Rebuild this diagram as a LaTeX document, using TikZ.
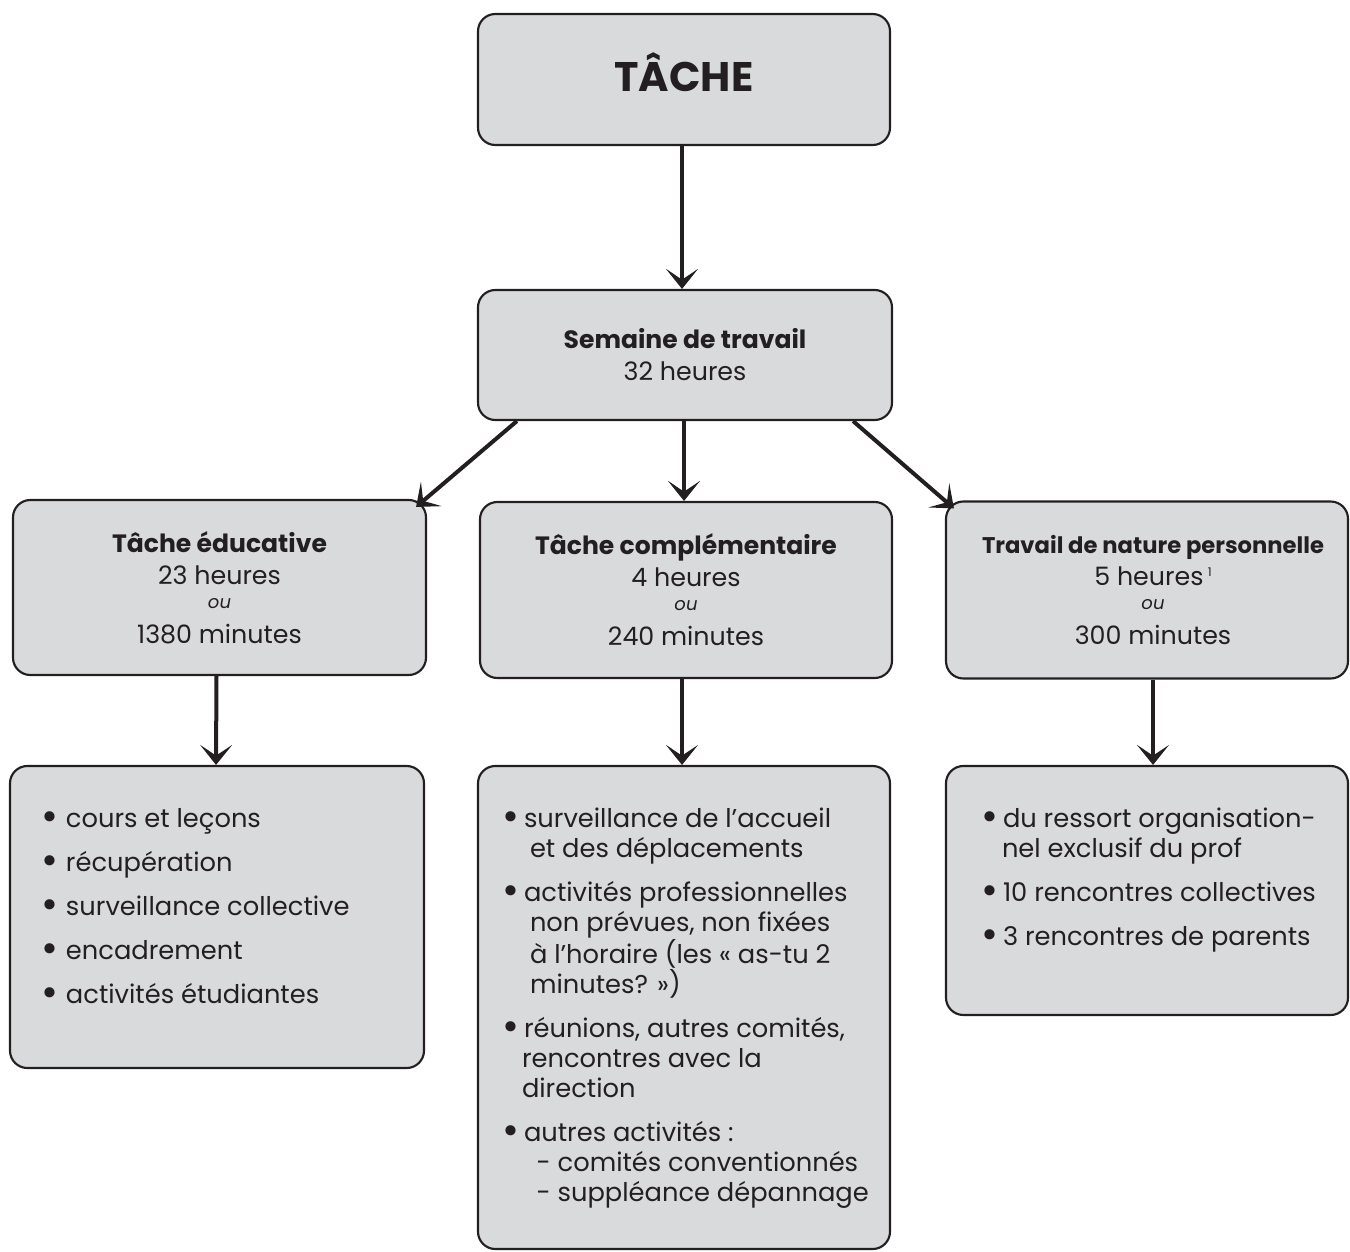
\documentclass[tikz,border=0pt]{standalone}
\usepackage{fontspec}
\setmainfont{Poppins}
\usetikzlibrary{arrows.meta,calc}
\definecolor{boxfill}{HTML}{D9DADC}
\definecolor{ink}{HTML}{231F20}
\newcommand\regfont{\fontsize{19}{24}\selectfont}
\newcommand\ttlfont{\fontsize{18.8}{24}\selectfont\bfseries}
\newcommand\oufont{\fontsize{13.5}{14}\selectfont\itshape}
\newcommand\bodyfont{\fontsize{19.3}{22.5}\selectfont}
\newcommand\bigbullet{\raisebox{-2.6pt}{\scalebox{1.6}{\textbullet}}}
% one line of a list box: bullet centre offset, text offset (from box left), text
\newcommand\bline[3]{\noindent\makebox[0pt][l]{\hspace*{#1}\makebox[0pt][c]{\bigbullet}}\hspace*{#2}#3\par}
\newcommand\contline[2]{\noindent\hspace*{#1}#2\par}
\newcommand\firststrut{\rule{0pt}{46pt}}
\newcommand\itemgap{\vspace{10.5pt}}
\begin{document}
\begin{tikzpicture}[x=0.75pt,y=-0.75pt,
  box/.style={draw=ink, fill=boxfill, line width=1.6pt, rounded corners=13pt,
              inner sep=0pt, text=ink, align=center},
  arr/.style={draw=ink, line width=3pt, -{Stealth[length=15pt,width=24pt,inset=8pt]}}]
\useasboundingbox (0,0) rectangle (1350,1252);

% top
\node[box, minimum width=309pt, minimum height=98.25pt, text height=18.75pt, text depth=0pt]
  (tache) at (684,79.5) {\fontsize{31}{36}\selectfont\bfseries TÂCHE};

\node[box, minimum width=310.5pt, minimum height=97.5pt, font=\regfont] (sem) at (685,355)
  {{\ttlfont Semaine de travail}\\ 32 heures};

% middle tier
\node[box, minimum width=309.75pt, minimum height=131.25pt, font=\regfont] (edu) at (219.5,587.5)
  {{\ttlfont Tâche éducative}\\ 23 heures\\[-6pt] {\oufont ou}\\[2.25pt] 1380 minutes};

\node[box, minimum width=309pt, minimum height=132pt, font=\regfont] (comp) at (686,590)
  {{\ttlfont Tâche complémentaire}\\ 4 heures\\[-6pt] {\oufont ou}\\[2.25pt] 240 minutes};

\node[box, minimum width=301.5pt, minimum height=132.75pt, font=\regfont] (perso) at (1147,590)
  {\hspace*{9pt}{\fontsize{17}{24}\selectfont\bfseries Travail de nature personnelle}\\
   \hspace*{9pt}5 heures\,\raisebox{7pt}{\fontsize{9}{9}\selectfont 1}\\[-6pt]
   \hspace*{9pt}{\oufont ou}\\[2.25pt] \hspace*{9pt}300 minutes};

% bottom tier
\node[box, inner sep=0pt, font=\bodyfont] (eduL) at (217,917)
  {\begin{minipage}[c][226.5pt][t]{310.5pt}\bodyfont
   \bline{30pt}{42pt}{\firststrut cours et leçons}\itemgap
   \bline{30pt}{42pt}{récupération}\itemgap
   \bline{30pt}{42pt}{surveillance collective}\itemgap
   \bline{30pt}{42pt}{encadrement}\itemgap
   \bline{30pt}{42pt}{activités étudiantes}
   \end{minipage}};

\node[box, inner sep=0pt, font=\bodyfont] (compL) at (684,1007.5)
  {\begin{minipage}[c][362.25pt][t]{309pt}\bodyfont
   \bline{24.75pt}{34.5pt}{\firststrut surveillance de l'accueil}
   \contline{39pt}{et des déplacements}\itemgap
   \bline{24.75pt}{34.5pt}{activités professionnelles}
   \contline{39pt}{non prévues, non fixées}
   \contline{39pt}{à l'horaire (les « as-tu 2}
   \contline{39pt}{minutes? »)}\itemgap
   \bline{24.75pt}{34.5pt}{réunions, autres comités,}
   \contline{33pt}{rencontres avec la}
   \contline{33pt}{direction}\itemgap
   \bline{24.75pt}{34.5pt}{autres activités :}
   \contline{44pt}{- comités conventionnés}
   \contline{44pt}{- suppléance dépannage}
   \end{minipage}};

\node[box, inner sep=0pt, font=\bodyfont] (persoL) at (1147,890.5)
  {\begin{minipage}[c][186.75pt][t]{301.5pt}\bodyfont
   \bline{33pt}{42.75pt}{\firststrut du ressort organisation-}
   \contline{42pt}{nel exclusif du prof}\itemgap
   \bline{33pt}{42.75pt}{10 rencontres collectives}\itemgap
   \bline{33pt}{42.75pt}{3 rencontres de parents}
   \end{minipage}};

% connectors
\draw[arr] ($(tache.south)+(-2,0)$) -- ($(sem.north)+(-3,0)$);
\draw[arr] ($(sem.south west)+(40,0)$) -- ($(edu.north east)+(-11,8)$);
\draw[arr] ($(sem.south)+(-1,0)$) -- ($(comp.north)+(-2,0)$);
\draw[arr] ($(sem.south east)+(-40,0)$) -- ($(perso.north west)+(9,8)$);
\draw[arr] ($(edu.south)+(-3,0)$) -- ($(eduL.north)+(-1,0)$);
\draw[arr] ($(comp.south)+(-4,0)$) -- ($(compL.north)+(-2,0)$);
\draw[arr] ($(perso.south)+(6,0)$) -- ($(persoL.north)+(6,0)$);
\end{tikzpicture}
\end{document}
